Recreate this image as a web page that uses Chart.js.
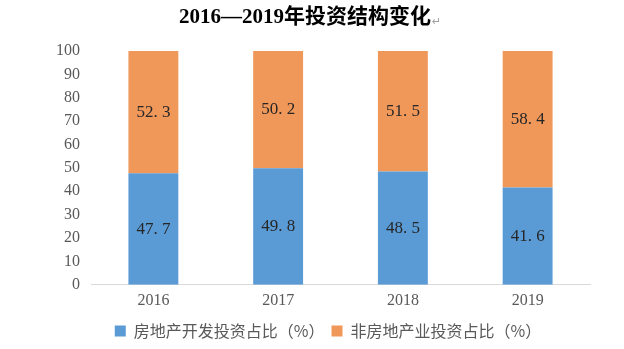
<!DOCTYPE html>
<html>
<head>
<meta charset="utf-8">
<script src="https://cdn.jsdelivr.net/npm/chart.js@4"></script>
<style>
    html, body { margin: 0; padding: 0; background: #fff; }
    #wrap { width: 624px; height: 349px; }
</style>
</head>
<body>
<div id="wrap"><canvas id="chart"></canvas></div>
<script>
// Investment structure by year (%)
const years = ['2016', '2017', '2018', '2019'];
const realEstateShare = [47.7, 49.8, 48.5, 41.6];
const otherShare = [52.3, 50.2, 51.5, 58.4];
const yTicks = [0, 10, 20, 30, 40, 50, 60, 70, 80, 90, 100];

const SERIF = '"Liberation Serif", "Noto Sans CJK SC", serif';

// Title with the trailing paragraph mark
const titlePlugin = {
    id: 'titleLine',
    afterDraw(chart) {
        const ctx = chart.ctx;
        const main = '2016—2019年投资结构变化';
        ctx.save();
        ctx.font = 'bold 21px "Liberation Serif", "Noto Sans CJK SC", serif';
        ctx.textBaseline = 'middle';
        const w = ctx.measureText(main).width;
        const x = 305 - w / 2;
        ctx.fillStyle = '#000';
        ctx.fillText(main, x, 18);
        ctx.font = '11px "DejaVu Sans", sans-serif';
        ctx.fillStyle = '#a0a0a0';
        ctx.fillText('↵', x + w + 1, 22);
        ctx.restore();
    }
};

// Nudge the legend to the right, centred under the whole canvas
const legendShift = {
    id: 'legendShift',
    afterLayout(chart) {
        if (chart.legend) {
            chart.legend.left += 33;
            chart.legend.right += 33;
        }
    }
};

// Value labels in the middle of each segment
const valueLabels = {
    id: 'valueLabels',
    afterDatasetsDraw(chart) {
        const ctx = chart.ctx;
        ctx.save();
        ctx.font = '17px ' + SERIF;
        ctx.fillStyle = '#262626';
        ctx.textAlign = 'center';
        ctx.textBaseline = 'middle';
        chart.data.datasets.forEach((ds, i) => {
            chart.getDatasetMeta(i).data.forEach((bar, j) => {
                const mid = (bar.y + bar.base) / 2;
                ctx.fillText(ds.data[j].toFixed(1).replace('.', '. '), bar.x, mid);
            });
        });
        ctx.restore();
    }
};

const ctx = document.getElementById('chart').getContext('2d');
new Chart(ctx, {
    type: 'bar',
    data: {
        labels: years,
        datasets: [
            {
                label: '房地产开发投资占比（%）',
                data: realEstateShare,
                backgroundColor: '#5b9bd5',
                barPercentage: 0.4,
                categoryPercentage: 1
            },
            {
                label: '非房地产业投资占比（%）',
                data: otherShare,
                backgroundColor: '#f0975a',
                barPercentage: 0.4,
                categoryPercentage: 1
            }
        ]
    },
    options: {
        responsive: true,
        maintainAspectRatio: false,
        animation: false,
        layout: {
            padding: { top: 51, right: 34, left: 0, bottom: 0 }
        },
        plugins: {
            title: { display: false },
            tooltip: { enabled: false },
            legend: {
                position: 'bottom',
                labels: {
                    font: { family: '"Noto Sans CJK SC", sans-serif', size: 16 },
                    color: '#595959',
                    boxWidth: 11,
                    boxHeight: 11,
                    padding: 7
                }
            }
        },
        scales: {
            x: {
                stacked: true,
                grid: { display: false, drawTicks: false },
                border: { display: true, color: '#d9d9d9', width: 1 },
                ticks: {
                    font: { family: SERIF, size: 16 },
                    color: '#595959',
                    padding: 6
                }
            },
            y: {
                stacked: true,
                min: 0,
                max: 100,
                afterFit(scale) { scale.width = 91; },
                afterBuildTicks(scale) {
                    scale.ticks = yTicks.map(v => ({ value: v }));
                },
                grid: { display: false, drawTicks: false },
                border: { display: false },
                ticks: {
                    font: { family: SERIF, size: 16 },
                    color: '#595959',
                    padding: 11
                }
            }
        }
    },
    plugins: [titlePlugin, legendShift, valueLabels]
});
</script>
</body>
</html>
